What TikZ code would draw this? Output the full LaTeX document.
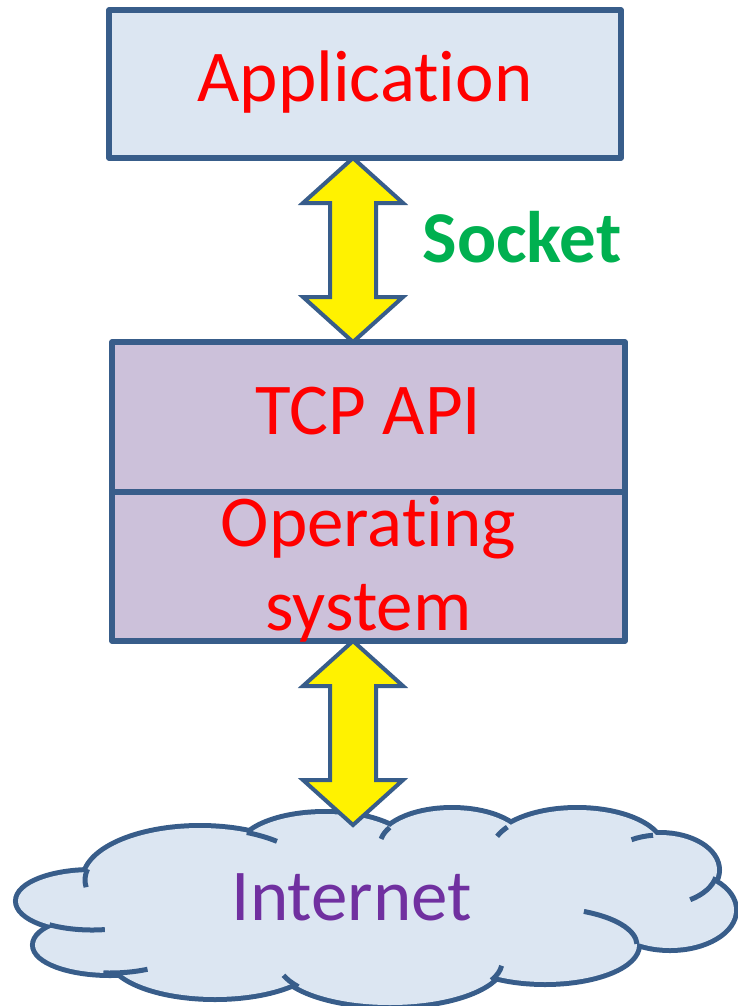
\documentclass[tikz,border=0pt]{standalone}
\usepackage{fontspec}
\setmainfont[Ligatures=NoCommon]{Carlito}
\usetikzlibrary{calc}
\definecolor{outlineblue}{HTML}{385D8A}
\definecolor{appfill}{HTML}{DCE6F2}
\definecolor{stackfill}{HTML}{CCC1DA}
\definecolor{cloudfill}{HTML}{DCE6F2}
\definecolor{socketgreen}{HTML}{00B050}
\definecolor{netpurple}{HTML}{7030A0}
\newcommand\BigFont{\fontsize{73}{84}\selectfont}
\def\HeadW{50pt} % half width of arrow head
\def\ShaftW{23pt} % half width of arrow shaft
\def\HeadL{45pt} % length of arrow head
\newcommand\DrawBlockArrow[2]{% #1 upper tip, #2 lower tip
  \draw[block arrow] let \p1=(#1), \p2=(#2) in
    (\x1,\y1) -- (\x1+\HeadW,\y1-\HeadL) -- (\x1+\ShaftW,\y1-\HeadL)
    -- (\x1+\ShaftW,\y2+\HeadL) -- (\x1+\HeadW,\y2+\HeadL) -- (\x1,\y2)
    -- (\x1-\HeadW,\y2+\HeadL) -- (\x1-\ShaftW,\y2+\HeadL)
    -- (\x1-\ShaftW,\y1-\HeadL) -- (\x1-\HeadW,\y1-\HeadL) -- cycle;
}
\def\CloudParts{200/880/115/52, 325/850/85/36, 452/845/72/35,
  577/850/85/40, 660/870/57/35, 670/910/64/38, 545/945/92/37,
  390/962/112/43, 215/955/105/42, 110/945/75/28, 92/901/74/29}
\tikzset{%
  layer box/.style={draw=outlineblue,line width=5.5pt,line join=round,
    inner sep=0pt,outer sep=0pt,text=red,font=\BigFont},
  app box/.style={layer box,fill=appfill,minimum width=512pt,
    minimum height=148pt,one line},
  stack box/.style={layer box,fill=stackfill,minimum width=513pt},
  one line/.style={text height=50pt,text depth=15pt},
  block arrow/.style={draw=outlineblue,fill=yellow,line width=4pt},
  cloud edge/.style={draw=outlineblue,line width=10pt},
  cloud hook/.style={draw=outlineblue,line width=5pt},
  socket label/.style={anchor=base,inner sep=0pt,text=socketgreen,
    font=\BigFont\bfseries},
  net label/.style={anchor=base,inner sep=0pt,text=netpurple,font=\BigFont}
}
\begin{document}
\begin{tikzpicture}[x=1pt,y=-1pt]

%% some definitions

\def\ArrowX{353} % axis of both arrows
\useasboundingbox (0,0) rectangle (737,1006);
\coordinate (axis) at (\ArrowX,0);

%% cloud: outlined bumps, then filled again to hide inner edges

\foreach \cx/\cy/\rx/\ry in \CloudParts
  \draw[cloud edge,fill=cloudfill] (\cx,\cy) ellipse [x radius=\rx,y radius=\ry];
\foreach \cx/\cy/\rx/\ry in \CloudParts
  \fill[cloudfill] (\cx,\cy) ellipse [x radius=\rx,y radius=\ry];
\fill[cloudfill] (380,905) ellipse [x radius=280,y radius=60];
\foreach \cx/\cy/\rx/\ry/\a/\b in {200/880/115/52/-66/-48,
    452/845/72/35/190/210, 577/850/85/40/200/215, 660/870/57/35/-120/-97,
    660/870/57/35/12/58, 545/945/92/37/-65/-2, 390/962/112/43/5/25,
    390/962/112/43/145/162, 110/945/75/28/60/95, 92/901/74/29/80/125,
    200/880/115/52/172/192}
  \draw[cloud hook] (\cx,\cy) ++({\rx*cos(\a)},{\ry*sin(\a)})
    arc [start angle=\a,end angle=\b,x radius=\rx,y radius=\ry];

\node[net label] (inet) at (352,920) {Internet};
\coordinate (cloudtop) at (\ArrowX,825);

%% layers

\node[app box] (app) at (365,84) {Application};
\node[stack box,one line,minimum height=150pt] (tcp) at (368.5,417) {TCP API};
\node[stack box,minimum height=149pt,align=center,text height=138pt,
  text depth=11pt] (os) at (368.5,566.5) {Operating\\system};

%% arrows and label

\DrawBlockArrow{app.south -| axis}{tcp.north -| axis}
\DrawBlockArrow{os.south -| axis}{cloudtop}
\node[socket label] (sock) at (522,262) {Socket};

\end{tikzpicture}
\end{document}
